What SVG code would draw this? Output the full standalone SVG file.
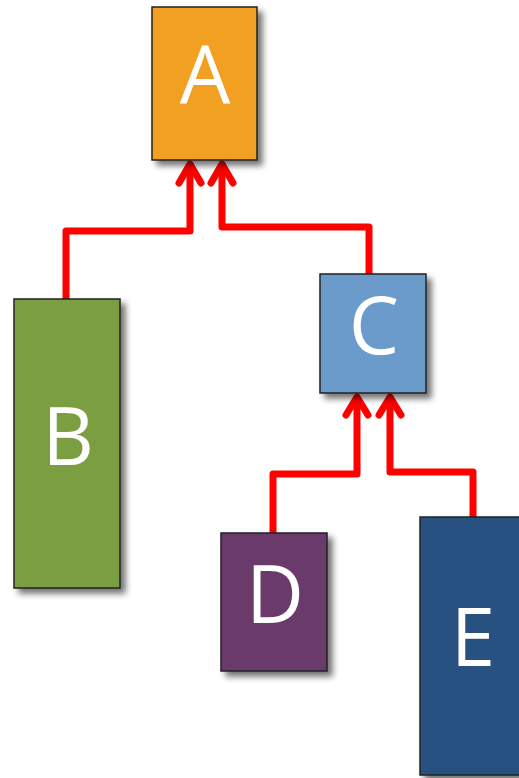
<svg xmlns="http://www.w3.org/2000/svg" width="519" height="778" viewBox="0 0 519 778">
<defs>
<filter id="sh" x="-20%" y="-20%" width="150%" height="150%">
<feGaussianBlur in="SourceAlpha" stdDeviation="3"/>
<feOffset dx="5" dy="5" result="b"/>
<feComponentTransfer><feFuncA type="linear" slope="0.55"/></feComponentTransfer>
<feMerge><feMergeNode/><feMergeNode in="SourceGraphic"/></feMerge>
</filter>
</defs>
<style>
.box{stroke:#222;stroke-width:1.5;filter:url(#sh)}
.lbl{font-family:"Open Sans","Noto Sans",sans-serif;font-size:80px;fill:#fff;text-anchor:middle}
.wire{fill:none;stroke:#ff0000;stroke-width:7;stroke-linejoin:round;stroke-linecap:butt}
.head{fill:none;stroke:#ff0000;stroke-width:7;stroke-linejoin:round;stroke-linecap:round}
</style>
<rect width="519" height="778" fill="#fff"/>
<g id="connectors">
<path class="wire" d="M66,299 V231 H190 V164"/>
<polyline class="head" points="179,183 190,164 201,183"/>
<path class="wire" d="M369,274 V227 H222 V164"/>
<polyline class="head" points="211,183 222,164 233,183"/>
<path class="wire" d="M273,533 V474 H357 V397"/>
<polyline class="head" points="346,415 357,397 368,415"/>
<path class="wire" d="M473,517 V472 H390 V397"/>
<polyline class="head" points="379,415 390,397 401,415"/>
</g>
<g id="A"><rect class="box" x="152" y="7" width="105" height="153" fill="#F2A022"/><text class="lbl" x="205" y="103">A</text></g>
<g id="B"><rect class="box" x="14" y="299" width="106" height="289" fill="#7A9E3F"/><text class="lbl" x="68" y="465">B</text></g>
<g id="C"><rect class="box" x="320" y="274" width="106" height="119" fill="#6A9BCB"/><text class="lbl" x="374" y="354">C</text></g>
<g id="D"><rect class="box" x="221" y="533" width="106" height="138" fill="#6A3A6B"/><text class="lbl" x="275" y="623">D</text></g>
<g id="E"><rect class="box" x="420" y="517" width="106" height="258" fill="#275181"/><text class="lbl" x="473" y="666">E</text></g>
</svg>
